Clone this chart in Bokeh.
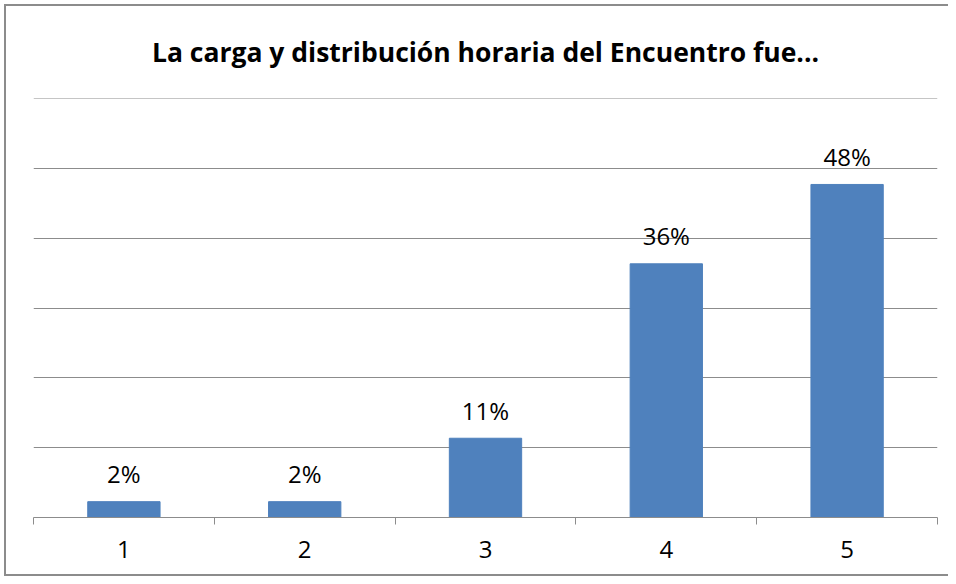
from bokeh.plotting import figure
from bokeh.models import ColumnDataSource, FixedTicker, Range1d
from bokeh.core.properties import value
from bokeh.embed import file_html
from bokeh.resources import INLINE

# Data
categories = [1, 2, 3, 4, 5]
percent = [2.27, 2.27, 11.36, 36.36, 47.73]
labels = [f"{round(v)}%" for v in percent]
tick_labels = {1: "1", 2: "2", 3: "3", 4: "4", 5: "5"}
y_ticks = [0, 10, 20, 30, 40, 50, 60]

FONT = "Open Sans"
GRID = "#8c8c8c"

source = ColumnDataSource(dict(x=categories, top=percent, label=labels))

p = figure(width=948, height=576, output_backend="svg", toolbar_location=None,
           x_range=Range1d(0.5, 5.5), y_range=Range1d(0, 60.05),
           min_border_left=33, min_border_right=11, min_border_top=98, min_border_bottom=59)
p.styles = {"box-shadow": ("inset 4px 0 0 0 white, inset 0 4px 0 0 white, "
                           "inset 6px 0 0 0 #8c8c8c, inset 0 6px 0 0 #8c8c8c, "
                           "inset 0 -2px 0 0 #8c8c8c")}

p.title.text = "La carga y distribución horaria del Encuentro fue..."
p.title.align = "center"
p.title.text_font = FONT
p.title.text_font_style = "bold"
p.title.text_font_size = "26.5px"
p.title.text_color = "#000000"
p.title.offset = -3
p.title.standoff = 58

p.outline_line_color = None
p.background_fill_color = "white"
p.border_fill_color = None

p.vbar(x="x", top="top", width=0.4, source=source, fill_color="#4F81BD", line_color="#4F81BD")
p.text(x="x", y="top", text="label", source=source, text_align="center",
       text_baseline="alphabetic", y_offset=-28, text_font=value(FONT),
       text_font_size="24px", text_color="#000000")

p.yaxis.visible = False
p.ygrid.ticker = FixedTicker(ticks=y_ticks)
p.ygrid.grid_line_color = GRID
p.ygrid.grid_line_width = 1
p.xgrid.visible = False

xa = p.xaxis[0]
xa.ticker = FixedTicker(ticks=categories, minor_ticks=[0.5, 1.5, 2.5, 3.5, 4.5, 5.5])
xa.major_label_overrides = tick_labels
xa.major_tick_line_color = None
xa.major_tick_out = 0
xa.major_tick_in = 0
xa.minor_tick_line_color = GRID
xa.minor_tick_out = 7
xa.minor_tick_in = 0
xa.axis_line_color = GRID
xa.major_label_standoff = 16
xa.major_label_text_font = FONT
xa.major_label_text_font_size = "24px"
xa.major_label_text_color = "#000000"

open("out.html", "w").write(file_html(p, INLINE))
